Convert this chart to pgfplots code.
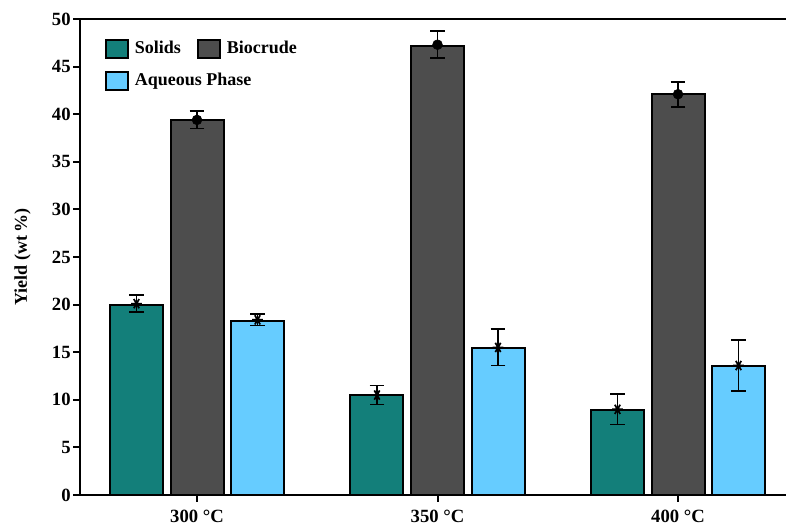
\documentclass[border=0pt]{standalone}
\usepackage{pgfplots}
\usepackage{pgfplotstable}
\pgfplotsset{compat=1.18}
\usepackage{fontspec}
\setmainfont{Liberation Serif}
\definecolor{solids}{HTML}{137F7A}
\definecolor{biocrude}{HTML}{4D4D4D}
\definecolor{aqueous}{HTML}{66CCFF}
\pgfplotstableread{
x solids bio aq
0 20.0 39.4 18.3
1 10.5 47.2 15.4
2 8.9 42.1 13.5
}\datatable
\pgfplotstableread{
x y e
0 20.1 0.9
1 10.5 1.0
2 9.0 1.6
}\solidsmark
\pgfplotstableread{
x y e
0 39.4 0.9
1 47.3 1.4
2 42.1 1.3
}\biomark
\pgfplotstableread{
x y e
0 18.4 0.6
1 15.5 1.9
2 13.6 2.7
}\aqmark
\begin{document}
\begin{tikzpicture}
\useasboundingbox (-60pt,-23.25pt) rectangle (529.5pt,371.25pt);
\begin{axis}[
  at={(0,0)}, anchor=south west,
  scale only axis, width=529.5pt, height=357pt,
  xmin=-0.4865, xmax=2.449, ymin=0, ymax=50,
  axis x line*=bottom, axis y line*=left,
  axis line style={line width=1.5pt, -},
  every tick/.style={black, line width=1.5pt},
  tick align=outside, major tick length=5pt,
  xtick={0,1,2}, xticklabels={300 °C, 350 °C, 400 °C},
  ytick={0,5,...,50},
  /pgf/number format/assume math mode=true,
  tick label style={font=\fontsize{14}{16}\selectfont\bfseries},
  yticklabel style={xshift=1.5pt},
  xticklabel style={yshift=-3pt},
  ylabel={Yield (wt\,\%)},
  ylabel style={font=\fontsize{13.5}{15}\selectfont\bfseries, yshift=9pt},
  bar width=39.75pt,
  legend columns=2,
  legend cell align=left,
  legend style={draw=none, fill=none, at={(rel axis cs:0.03,0.965)}, anchor=north west,
    font=\fontsize{13.5}{16}\selectfont\bfseries,
    nodes={inner xsep=1.5pt},
    /tikz/every odd column/.style={column sep=2.5pt},
    /tikz/every even column/.style={column sep=11pt},
    row sep=9pt},
  legend image code/.code={\draw[#1, line width=1.5pt, draw=black] (0pt,-6.75pt) rectangle (16.5pt,6.75pt);},
  clip=false,
]
\addplot[ybar, fill=solids, draw=black, line width=1.5pt, bar shift=-45.4pt] table[x=x, y=solids] {\datatable};
\addlegendentry{Solids}
\addplot[ybar, fill=biocrude, draw=black, line width=1.5pt, bar shift=0pt] table[x=x, y=bio] {\datatable};
\addlegendentry{Biocrude}
\addplot[ybar, fill=aqueous, draw=black, line width=1.5pt, bar shift=45.4pt] table[x=x, y=aq] {\datatable};
\addlegendentry{\makebox[0pt][l]{Aqueous Phase}}

\addplot[forget plot, draw=none, only marks, mark=asterisk, mark size=4pt, mark options={black, rotate=90, line width=1.3pt},
  error bars/.cd, y dir=both, y explicit, error bar style={black, line width=1.4pt},
  error mark options={rotate=90, mark size=5.6pt, line width=1.4pt, black}]
  table[x expr=\thisrow{x}-0.2516, y=y, y error=e] {\solidsmark};
\addplot[forget plot, draw=none, only marks, mark=*, mark size=3.7pt, mark options={black, fill=black},
  error bars/.cd, y dir=both, y explicit, error bar style={black, line width=1.4pt},
  error mark options={rotate=90, mark size=5.6pt, line width=1.4pt, black}]
  table[x=x, y=y, y error=e] {\biomark};
\addplot[forget plot, draw=none, only marks, mark=asterisk, mark size=4pt, mark options={black, rotate=90, line width=1.3pt},
  error bars/.cd, y dir=both, y explicit, error bar style={black, line width=1.4pt},
  error mark options={rotate=90, mark size=5.6pt, line width=1.4pt, black}]
  table[x expr=\thisrow{x}+0.2516, y=y, y error=e] {\aqmark};
\draw[line width=1.5pt] (rel axis cs:0,1) -- (rel axis cs:1,1);
\end{axis}
\end{tikzpicture}
\end{document}
